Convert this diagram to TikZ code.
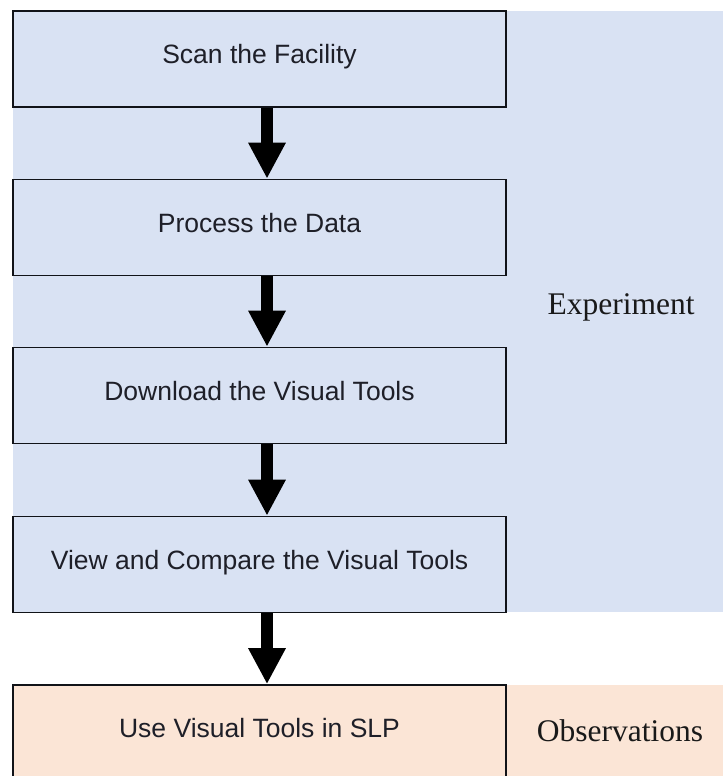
\documentclass[tikz,border=0pt]{standalone}
\usepackage{fontspec}
\usetikzlibrary{arrows.meta}
\newfontfamily\boxfont{Liberation Sans}
\newfontfamily\lblfont{Liberation Serif}
\definecolor{bgblue}{HTML}{D9E2F3}
\definecolor{bgorange}{HTML}{FBE5D6}
\definecolor{boxline}{HTML}{111318}
\definecolor{txtdark}{HTML}{1E1F28}
\begin{document}
\begin{tikzpicture}[x=1pt,y=1pt,
  stepbox/.style={draw=boxline, line width=1.6pt, minimum width=493pt, minimum height=96pt,
    inner sep=0pt, text height=20pt, text depth=10pt, align=center,
    font=\boxfont\fontsize{26.5}{30}\selectfont, text=txtdark},
  sidelabel/.style={anchor=base, inner sep=0pt, font=\lblfont\fontsize{31.5}{36}\selectfont, text=black!90},
  flowarrow/.style={line width=12pt, line cap=butt, -{Triangle[width=35pt,length=36pt]}, black}]
\clip (0,0) rectangle (723,776);
\fill[bgblue] (13,164) rectangle (723,765);
\fill[bgorange] (13,-5) rectangle (723,91);
\node[stepbox] (b1) at (259.5,717) {Scan the Facility};
\node[stepbox] (b2) at (259.5,548.5) {Process the Data};
\node[stepbox] (b3) at (259.5,380.5) {Download the Visual Tools};
\node[stepbox] (b4) at (259.5,211.5) {View and Compare the Visual Tools};
\node[stepbox] (b5) at (259.5,43) {Use Visual Tools in SLP};
\node[sidelabel] (exp) at (621,461) {Experiment};
\node[sidelabel] (obs) at (620,34) {Observations};
\draw[flowarrow] ([xshift=7.5pt]b1.south) -- ([xshift=7.5pt]b2.north);
\draw[flowarrow] ([xshift=7.5pt]b2.south) -- ([xshift=7.5pt]b3.north);
\draw[flowarrow] ([xshift=7.5pt]b3.south) -- ([xshift=7.5pt]b4.north);
\draw[flowarrow] ([xshift=7.5pt]b4.south) -- ([xshift=7.5pt]b5.north);
\end{tikzpicture}
\end{document}
